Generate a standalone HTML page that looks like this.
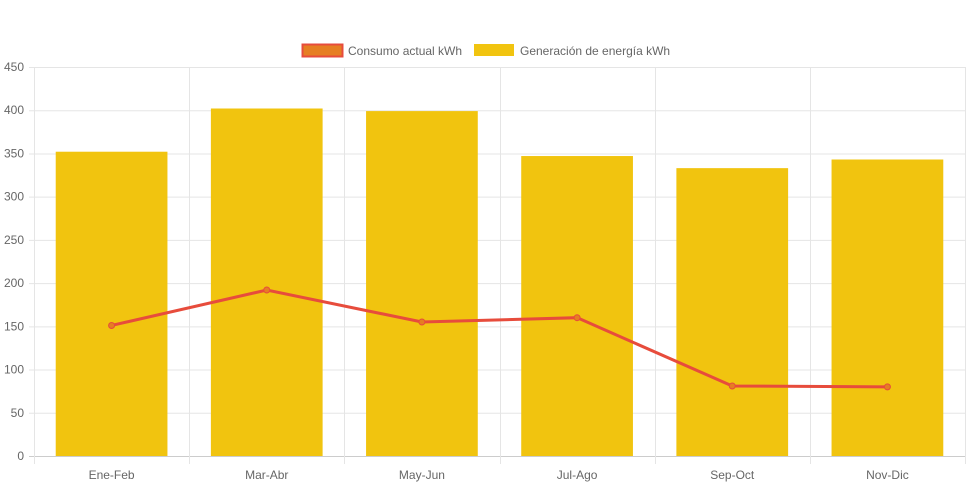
<!DOCTYPE html>
<html><head><meta charset="utf-8"><style>
body{margin:0;background:#fff;}
svg{display:block;font-family:"Liberation Sans",sans-serif;}
</style></head><body>
<svg id="c" width="971" height="485"></svg>
<script>
const categories=["Ene-Feb","Mar-Abr","May-Jun","Jul-Ago","Sep-Oct","Nov-Dic"];
const generation=[352,402,399,347,333,343];
const consumption=[151,192,155,160,81,80];
const yTicks=[0,50,100,150,200,250,300,350,400,450];
const NS="http://www.w3.org/2000/svg";
const svg=document.getElementById('c');
const L=34,R=965,T=67,B=456,yMax=450;
const bw=(R-L)/categories.length;
const y=v=>B-(v/yMax)*(B-T);
const xc=i=>L+bw*(i+0.5);
function el(t,a,p){const e=document.createElementNS(NS,t);for(const k in a)e.setAttribute(k,a[k]);(p||svg).appendChild(e);return e;}
yTicks.forEach(v=>{
 const g=el('line',{x1:L-5,x2:R,y1:y(v)+.5,y2:y(v)+.5,stroke:v===0?'#ccc':'#e5e5e5'});
 
 
 const t=el('text',{x:L-10,y:y(v)+4,'text-anchor':'end','font-size':12,fill:'#666'});t.textContent=v;
 
 
});
for(let i=0;i<=categories.length;i++){
 const x=Math.round(L+bw*i)+.5;
 const g=el('line',{x1:x,x2:x,y1:T,y2:B+8,stroke:'#e5e5e5'});
 
 
}
categories.forEach((c,i)=>{
 const w=bw*0.72;
 const b=el('rect',{x:xc(i)-w/2,y:y(generation[i]),width:w,height:B-y(generation[i]),fill:'#f1c40f'});
 
 
 const t=el('text',{x:xc(i),y:479,'text-anchor':'middle','font-size':12,fill:'#666'});t.textContent=c;
 
 
});
const pl=el('polyline',{points:consumption.map((v,i)=>xc(i)+','+y(v)).join(' '),fill:'none',stroke:'#e74c3c','stroke-width':3});


consumption.forEach((v,i)=>{
 const p=el('circle',{cx:xc(i),cy:y(v),r:3,fill:'#e67e22',stroke:'#e74c3c','stroke-width':1});
 
 
});
const lg=el('g',{});


const r1=el('rect',{x:302.5,y:44.5,width:40,height:12,fill:'#e67e22',stroke:'#e74c3c','stroke-width':2},lg);


const t1=el('text',{x:348,y:55,'font-size':12,fill:'#666'},lg);t1.textContent='Consumo actual kWh';


const r2=el('rect',{x:474,y:44,width:40,height:12,fill:'#f1c40f'},lg);


const t2=el('text',{x:520,y:55,'font-size':12,fill:'#666'},lg);t2.textContent='Generación de energía kWh';


</script>
</body></html>
